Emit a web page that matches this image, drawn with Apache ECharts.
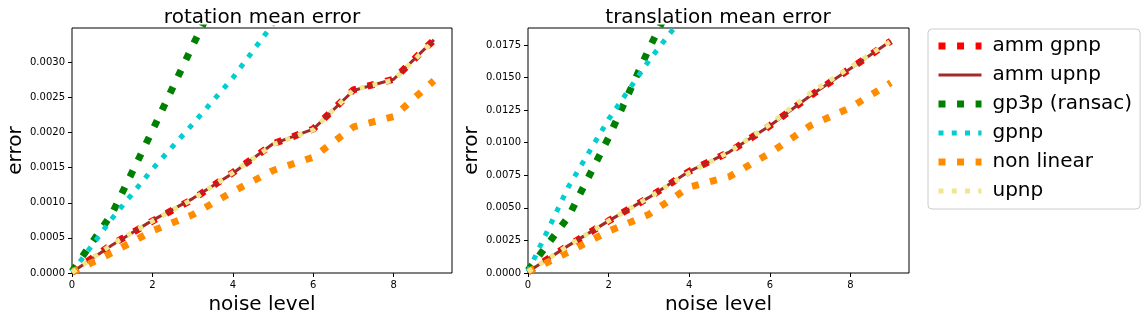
<!DOCTYPE html>
<html>
<head>
<meta charset="utf-8">
<script src="https://cdn.jsdelivr.net/npm/echarts@6/dist/echarts.min.js"></script>
<style>
  html, body { margin: 0; padding: 0; background: #fff; }
  #chart { width: 1147px; height: 320px; }
</style>
</head>
<body>
<div id="chart"></div>
<script>
// noise levels on the x axis
var noise = [0, 1, 2, 3, 4, 5, 6, 7, 8, 9]

// rotation mean error
var rotAmmGpnp = [0.00001, 0.00041, 0.00074, 0.00105, 0.00143, 0.00184, 0.00205, 0.00261, 0.00276, 0.00332]
var rotAmmUpnp = [0.00001, 0.00040, 0.00075, 0.00106, 0.00142, 0.00184, 0.00205, 0.00260, 0.00276, 0.00332]
var rotGp3p = [0.00002, 0.00085, 0.00203, 0.00324, 0.00440, 0.00560, 0.00680, 0.00800, 0.00920, 0.01040]
var rotGpnp = [0.00001, 0.00078, 0.00148, 0.00212, 0.00278, 0.00355, 0.00420, 0.00490, 0.00560, 0.00630]
var rotNonLinear = [0.00001, 0.00029, 0.00060, 0.00083, 0.00116, 0.00146, 0.00165, 0.00208, 0.00223, 0.00274]
var rotUpnp = [0.00001, 0.00041, 0.00074, 0.00105, 0.00143, 0.00183, 0.00204, 0.00261, 0.00275, 0.00331]

// translation mean error
var traAmmGpnp = [0.0001, 0.0021, 0.0040, 0.0058, 0.0078, 0.0093, 0.0113, 0.0136, 0.0157, 0.0178]
var traAmmUpnp = [0.0001, 0.0021, 0.0040, 0.0058, 0.0078, 0.0093, 0.0113, 0.0136, 0.0157, 0.0178]
var traGp3p = [0.0002, 0.0043, 0.0104, 0.0172, 0.0235, 0.0300, 0.0365, 0.0430, 0.0495, 0.0560]
var traGpnp = [0.0001, 0.0066, 0.0118, 0.0163, 0.0203, 0.0245, 0.0290, 0.0335, 0.0380, 0.0425]
var traNonLinear = [0.0001, 0.0016, 0.0032, 0.0045, 0.0066, 0.0074, 0.0092, 0.0113, 0.0127, 0.0146]
var traUpnp = [0.0001, 0.0021, 0.0040, 0.0058, 0.0077, 0.0093, 0.0114, 0.0138, 0.0158, 0.0178]

var names = ['amm gpnp', 'amm upnp', 'gp3p (ransac)', 'gpnp', 'non linear', 'upnp']
var xTicks = [0, 2, 4, 6, 8]
var rotTicks = [0, 0.0005, 0.001, 0.0015, 0.002, 0.0025, 0.003]
var traTicks = [0, 0.0025, 0.005, 0.0075, 0.01, 0.0125, 0.015, 0.0175]

var font = 'DejaVu Sans'

function pairs(ys) {
  return noise.map(function(x, i) { return [x, ys[i]] })
}

// matplotlib ':' style -> dash lw, gap 1.65*lw
function dotted(color, w) {
  return { color: color, width: w, type: [w, w * 1.65], cap: 'butt' }
}

var styles = [
  dotted('#ff0000', 7),
  { color: '#a52a2a', width: 3, type: 'solid' },
  dotted('#008000', 7),
  dotted('#00ced1', 5),
  dotted('#ff8c00', 7),
  dotted('#f0e68c', 5)
]

function makeSeries(datas, idx) {
  return datas.map(function(d, i) {
    return {
      name: names[i],
      type: 'line',
      xAxisIndex: idx,
      yAxisIndex: idx,
      data: pairs(d),
      showSymbol: false,
      symbol: 'none',
      animation: false,
      lineStyle: styles[i],
      itemStyle: { color: styles[i].color },
      z: 2 + i
    }
  })
}

function xAxis(idx) {
  return {
    type: 'value',
    gridIndex: idx,
    min: 0,
    max: 9.45,
    name: 'noise level',
    nameLocation: 'middle',
    nameGap: 19,
    nameTextStyle: { fontSize: 20, color: '#000', fontFamily: font },
    axisLine: { show: false },
    axisTick: { show: true, length: 4, customValues: xTicks, lineStyle: { color: '#000' } },
    axisLabel: { customValues: xTicks, margin: 7, fontSize: 10, color: '#000', fontFamily: font },
    splitLine: { show: false }
  }
}

function yAxis(idx, max, ticks) {
  return {
    type: 'value',
    gridIndex: idx,
    min: 0,
    max: max,
    name: 'error',
    nameLocation: 'middle',
    nameGap: 45,
    nameTextStyle: { fontSize: 20, color: '#000', fontFamily: font },
    axisLine: { show: false },
    axisTick: { show: true, length: 4, customValues: ticks, lineStyle: { color: '#000' } },
    axisLabel: {
      customValues: ticks, margin: 7, fontSize: 10, color: '#000', fontFamily: font,
      formatter: function(v) { return v.toFixed(4) }
    },
    splitLine: { show: false }
  }
}

var myChart = echarts.init(document.getElementById('chart'))
var option = {
  backgroundColor: '#fff',
  animation: false,
  title: [
    { text: 'rotation mean error', left: 257, top: 3, textAlign: 'center',
      textStyle: { fontSize: 20, fontWeight: 'normal', color: '#000', fontFamily: font } },
    { text: 'translation mean error', left: 713, top: 3, textAlign: 'center',
      textStyle: { fontSize: 20, fontWeight: 'normal', color: '#000', fontFamily: font } }
  ],
  grid: [
    { left: 72, top: 28, width: 380, height: 245, show: true, borderColor: '#000', borderWidth: 1 },
    { left: 528, top: 28, width: 381, height: 245, show: true, borderColor: '#000', borderWidth: 1 }
  ],
  xAxis: [xAxis(0), xAxis(1)],
  yAxis: [yAxis(0, 0.00349, rotTicks), yAxis(1, 0.0188, traTicks)],
  legend: {
    data: names,
    orient: 'vertical',
    left: 928,
    top: 29,
    padding: [7, 8, 8, 7],
    itemGap: 9,
    itemWidth: 43,
    itemHeight: 14,
    borderColor: '#cccccc',
    borderWidth: 1,
    borderRadius: 4,
    itemStyle: { opacity: 0 },
    lineStyle: { width: 'inherit', type: 'inherit' },
    textStyle: { fontSize: 20, color: '#000', fontFamily: font, padding: [0, 0, 0, 6] }
  },
  series: makeSeries([rotAmmGpnp, rotAmmUpnp, rotGp3p, rotGpnp, rotNonLinear, rotUpnp], 0)
    .concat(makeSeries([traAmmGpnp, traAmmUpnp, traGp3p, traGpnp, traNonLinear, traUpnp], 1))
}
myChart.setOption(option)
</script>
</body>
</html>
